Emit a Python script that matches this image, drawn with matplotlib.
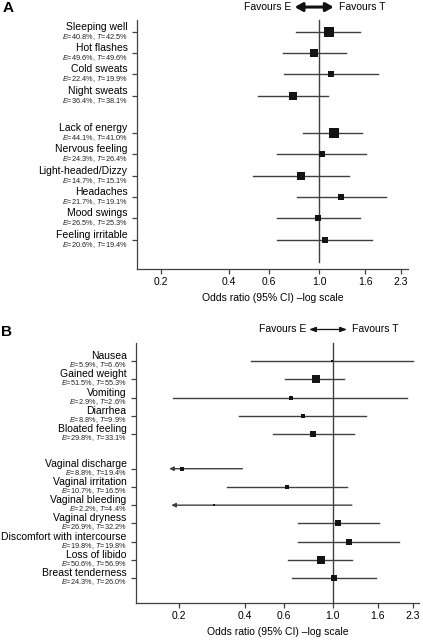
import numpy as np
import matplotlib
matplotlib.use("Agg")
import matplotlib.pyplot as plt
import matplotlib.transforms as mtransforms

plt.rcParams["font.family"] = ["Liberation Sans", "DejaVu Sans"]
plt.rcParams["mathtext.fontset"] = "custom"
plt.rcParams["mathtext.rm"] = "Liberation Sans"
plt.rcParams["mathtext.it"] = "Liberation Sans:italic"

FONT = 7.5
SUB_FONT = 5.3
LINE_COL = "#404040"
BOX_COL = "#141414"

# ---- panel A: menopausal / general symptoms ----
a_groups = [
    ["Sleeping well", "Hot flashes", "Cold sweats", "Night sweats"],
    ["Lack of energy", "Nervous feeling", "Light-headed/Dizzy", "Headaches",
     "Mood swings", "Feeling irritable"],
]
a_pct_e = [40.8, 49.6, 22.4, 36.4, 44.1, 24.3, 14.7, 21.7, 26.5, 20.6]
a_pct_t = [42.5, 49.6, 19.9, 38.1, 41.0, 26.4, 15.1, 19.1, 25.3, 19.4]
a_or = [1.11, 0.95, 1.13, 0.77, 1.16, 1.03, 0.835, 1.25, 0.99, 1.06]
a_lo = [0.79, 0.69, 0.70, 0.54, 0.85, 0.65, 0.51, 0.80, 0.65, 0.65]
a_hi = [1.51, 1.31, 1.82, 1.10, 1.54, 1.61, 1.36, 1.97, 1.52, 1.72]
a_lo_open = [False] * 10
a_weight = [9.7, 8.3, 6.7, 8.7, 9.7, 6.7, 7.3, 6.3, 7.0, 6.7]

# ---- panel B: gastrointestinal / gynaecological symptoms ----
b_groups = [
    ["Nausea", "Gained weight", "Vomiting", "Diarrhea", "Bloated feeling"],
    ["Vaginal discharge", "Vaginal irritation", "Vaginal bleeding",
     "Vaginal dryness", "Discomfort with intercourse", "Loss of libido",
     "Breast tenderness"],
]
b_pct_e = [5.9, 51.5, 2.9, 8.8, 29.8, 8.8, 10.7, 2.2, 26.9, 19.8, 50.6, 24.3]
b_pct_t = [6.6, 55.3, 2.6, 9.9, 33.1, 19.4, 16.5, 4.4, 32.2, 19.8, 56.9, 26.0]
b_or = [0.99, 0.835, 0.648, 0.73, 0.815, 0.206, 0.617, 0.288, 1.06, 1.19, 0.883, 1.01]
b_lo = [0.424, 0.61, 0.188, 0.375, 0.533, 0.181, 0.33, 0.185, 0.692, 0.697, 0.628, 0.655]
b_hi = [2.32, 1.12, 2.18, 1.41, 1.245, 0.389, 1.158, 1.22, 1.616, 2.0, 1.22, 1.566]
b_lo_open = [False, False, False, False, False, True, False, True,
             False, False, False, False]
b_weight = [3.0, 8.7, 3.3, 4.3, 5.7, 4.7, 4.3, 2.7, 6.0, 5.7, 8.7, 6.0]

x_ticks = [0.2, 0.4, 0.6, 1.0, 1.6, 2.3]


def row_positions(groups, gap):
    ys, y = [], 0.0
    for g in groups:
        for _ in g:
            ys.append(y)
            y += 1.0
        y += gap - 1.0
    return np.array(ys)


def forest(ax, groups, gap, pct_e, pct_t, odds, lo, hi, lo_open, weight,
           xlim, ylim, ref_end, arrow_style, sub_dy):
    names = [n for g in groups for n in g]
    ys = row_positions(groups, gap)
    ax.set_xscale("log")
    ax.set_xlim(*xlim)
    ax.set_ylim(*ylim)

    ref_top = ylim[1]
    ref_bot = ys[-1] + ref_end if ref_end is not None else ylim[0]
    ax.plot([1.0, 1.0], [ref_top, ref_bot], color=LINE_COL, lw=1.0,
            zorder=1, clip_on=False)

    for y, o, l, h, op, w in zip(ys, odds, lo, hi, lo_open, weight):
        if op:
            ax.annotate("", xy=(l, y), xytext=(h, y),
                        arrowprops=dict(arrowstyle="-|>,head_length=0.25,head_width=0.12",
                                        color=LINE_COL, lw=1.0,
                                        shrinkA=0, shrinkB=0), zorder=2)
        else:
            ax.plot([l, h], [y, y], color=LINE_COL, lw=1.0, zorder=2)
        ax.plot(o, y, marker="s", ms=w / 1.389, color=BOX_COL, mec=BOX_COL,
                mew=0, zorder=3)

    trans = mtransforms.blended_transform_factory(ax.transAxes, ax.transData)
    for y, n, e, t in zip(ys, names, pct_e, pct_t):
        ax.annotate(n, xy=(0, y), xycoords=trans, xytext=(-9.5, 2),
                    textcoords="offset pixels", ha="right", va="baseline",
                    fontsize=FONT)
        ax.annotate(f"$E$={e:.1f}%, $T$={t:.1f}%", xy=(0, y), xycoords=trans,
                    xytext=(-9.5, -sub_dy), textcoords="offset pixels",
                    ha="right", va="center", fontsize=SUB_FONT, color="#222222")

    ax.set_yticks(ys)
    ax.set_yticklabels([])
    ax.set_xticks(x_ticks)
    ax.set_xticklabels([f"{v:.1f}" for v in x_ticks], fontsize=FONT)
    ax.xaxis.set_minor_locator(matplotlib.ticker.NullLocator())
    ax.tick_params(axis="both", direction="out", length=3.5, width=0.9,
                   color=LINE_COL, pad=2.5)
    ax.set_xlabel("Odds ratio (95% CI) \u2013log scale", fontsize=FONT, labelpad=4)
    for s in ("top", "right"):
        ax.spines[s].set_visible(False)
    for s in ("left", "bottom"):
        ax.spines[s].set_color(LINE_COL)
        ax.spines[s].set_linewidth(0.9)

    # favours header
    htrans = mtransforms.blended_transform_factory(ax.transData, ax.transAxes)
    ax.text(0.755, 1.052, "Favours E", transform=htrans, ha="right",
            va="center", fontsize=FONT)
    ax.text(1.22, 1.052, "Favours T", transform=htrans, ha="left",
            va="center", fontsize=FONT)
    ax.annotate("", xy=(0.78, 1.052), xytext=(1.16, 1.052),
                xycoords=htrans, textcoords=htrans, annotation_clip=False,
                arrowprops=arrow_style)


fig = plt.figure(figsize=(4.23, 6.41), dpi=100)
ax_a = fig.add_axes([137 / 423, 1 - 269 / 641, 271 / 423, 249 / 641])
ax_b = fig.add_axes([136 / 423, 1 - 603 / 641, 283 / 423, 260 / 641])

forest(ax_a, a_groups, 1.75, a_pct_e, a_pct_t, a_or, a_lo, a_hi, a_lo_open,
       a_weight, xlim=(0.157, 2.47), ylim=(11.13, -0.55), ref_end=1.05,
       arrow_style=dict(arrowstyle="<|-|>,head_length=0.45,head_width=0.25",
                        color="#111111", lw=2.2, shrinkA=0, shrinkB=0),
       sub_dy=5)
forest(ax_b, b_groups, 1.9, b_pct_e, b_pct_t, b_or, b_lo, b_hi, b_lo_open,
       b_weight, xlim=(0.128, 2.46), ylim=(13.27, -1.0), ref_end=None,
       arrow_style=dict(arrowstyle="<|-|>,head_length=0.4,head_width=0.15",
                        color="#111111", lw=0.9, shrinkA=0, shrinkB=0),
       sub_dy=4)

fig.text(3 / 423, 1 - 8 / 641, "A", fontsize=11, fontweight="bold",
         ha="left", va="center")
fig.text(1 / 423, 1 - 332 / 641, "B", fontsize=11, fontweight="bold",
         ha="left", va="center")

fig.savefig("out.png", dpi=100)
